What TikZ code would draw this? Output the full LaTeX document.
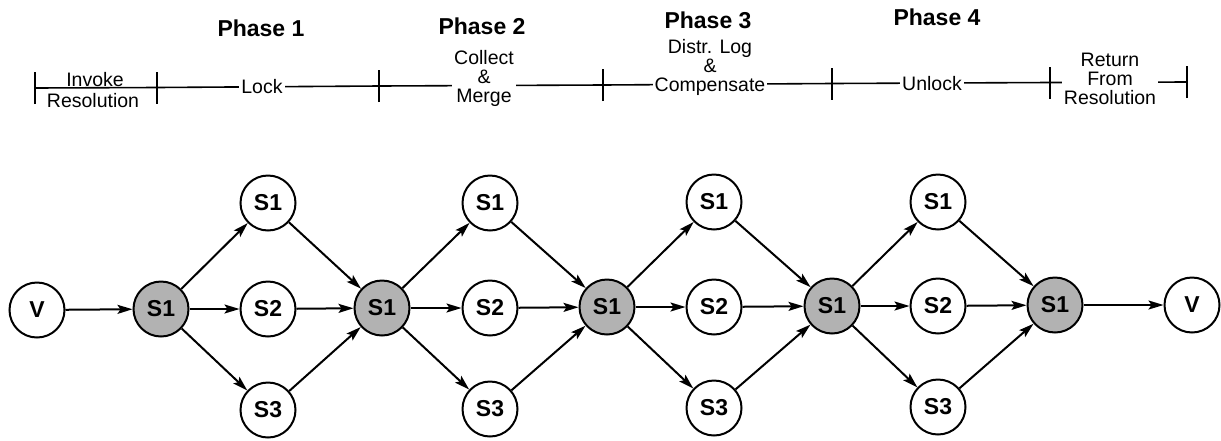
\documentclass[tikz,border=0pt]{standalone}
\usepackage{fontspec}
\setmainfont{Liberation Sans}
\usetikzlibrary{arrows.meta}
\begin{document}
\begin{tikzpicture}[x=1pt,y=-1pt,
  state/.style={circle,draw,line width=2pt,minimum size=55pt,inner sep=0pt,font=\fontsize{23}{23}\selectfont\bfseries},
  hub/.style={state,fill=black!30},
  conn/.style={line width=2pt,-{Stealth[length=15pt,width=9pt,inset=3pt]}},
  tl/.style={line width=1.6pt},
  lbl/.style={fill=white,inner sep=2pt,align=center,font=\fontsize{19.5}{19}\selectfont},
  phase/.style={font=\fontsize{23}{23}\selectfont\bfseries}]
\useasboundingbox (0,0) rectangle (1221,440);
% timeline
\coordinate (t0) at (35,88);
\coordinate (t1) at (157,87.5);
\coordinate (t2) at (379,86);
\coordinate (t3) at (603,85);
\coordinate (t4) at (832,83.5);
\coordinate (t5) at (1050,82.5);
\coordinate (t6) at (1187,82);
\draw[tl] (t0) -- (t1) -- (t2) -- (t3) -- (t4) -- (t5) -- (t6);
\foreach \t in {t0,t1,t2,t3,t4,t5,t6}{\draw[tl] ([yshift=-16pt]\t) -- ([yshift=16pt]\t);}
\node[lbl,fill=none] (invoke) at (95,80) {Invoke};
\node[lbl] (resol) at (93,101) {Resolution};
\node[lbl] (lock) at (262,87) {Lock};
\node[lbl] (collect) at (484,78) {Collect\\\&\\Merge};
\node[lbl] (distr) at (710,67) {Distr. Log\\\&\\Compensate};
\node[lbl] (unlock) at (932,84) {Unlock};
\node[lbl] (return) at (1110,79) {Return\\From\\Resolution};
% phases
\node[phase] (p1) at (261,28) {Phase 1};
\node[phase] (p2) at (482,26) {Phase 2};
\node[phase] (p3) at (708,20) {Phase 3};
\node[phase] (p4) at (937,17) {Phase 4};
% graph
\node[state] (v0) at (37,310) {V};
\node[hub] (g1) at (161,309) {S1};
\node[hub] (g2) at (382,308) {S1};
\node[hub] (g3) at (607,307) {S1};
\node[hub] (g4) at (832,306) {S1};
\node[hub] (g5) at (1055,305) {S1};
\node[state] (v1) at (1192,305) {V};
\node[state] (a1) at (268,203) {S1};
\node[state] (b1) at (268,309) {S2};
\node[state] (c1) at (268,410) {S3};
\node[state] (a2) at (490,203) {S1};
\node[state] (b2) at (490,308) {S2};
\node[state] (c2) at (490,409) {S3};
\node[state] (a3) at (714,202) {S1};
\node[state] (b3) at (714,307) {S2};
\node[state] (c3) at (714,408) {S3};
\node[state] (a4) at (938,202) {S1};
\node[state] (b4) at (938,306) {S2};
\node[state] (c4) at (938,407) {S3};
\draw[conn] (v0) -- (g1);
\draw[conn] (g5) -- (v1);
\foreach \i/\j in {1/2,2/3,3/4,4/5}{
  \draw[conn] (g\i) -- (a\i);
  \draw[conn] (g\i) -- (b\i);
  \draw[conn] (g\i) -- (c\i);
  \draw[conn] (a\i) -- (g\j);
  \draw[conn] (b\i) -- (g\j);
  \draw[conn] (c\i) -- (g\j);
}
\end{tikzpicture}
\end{document}
